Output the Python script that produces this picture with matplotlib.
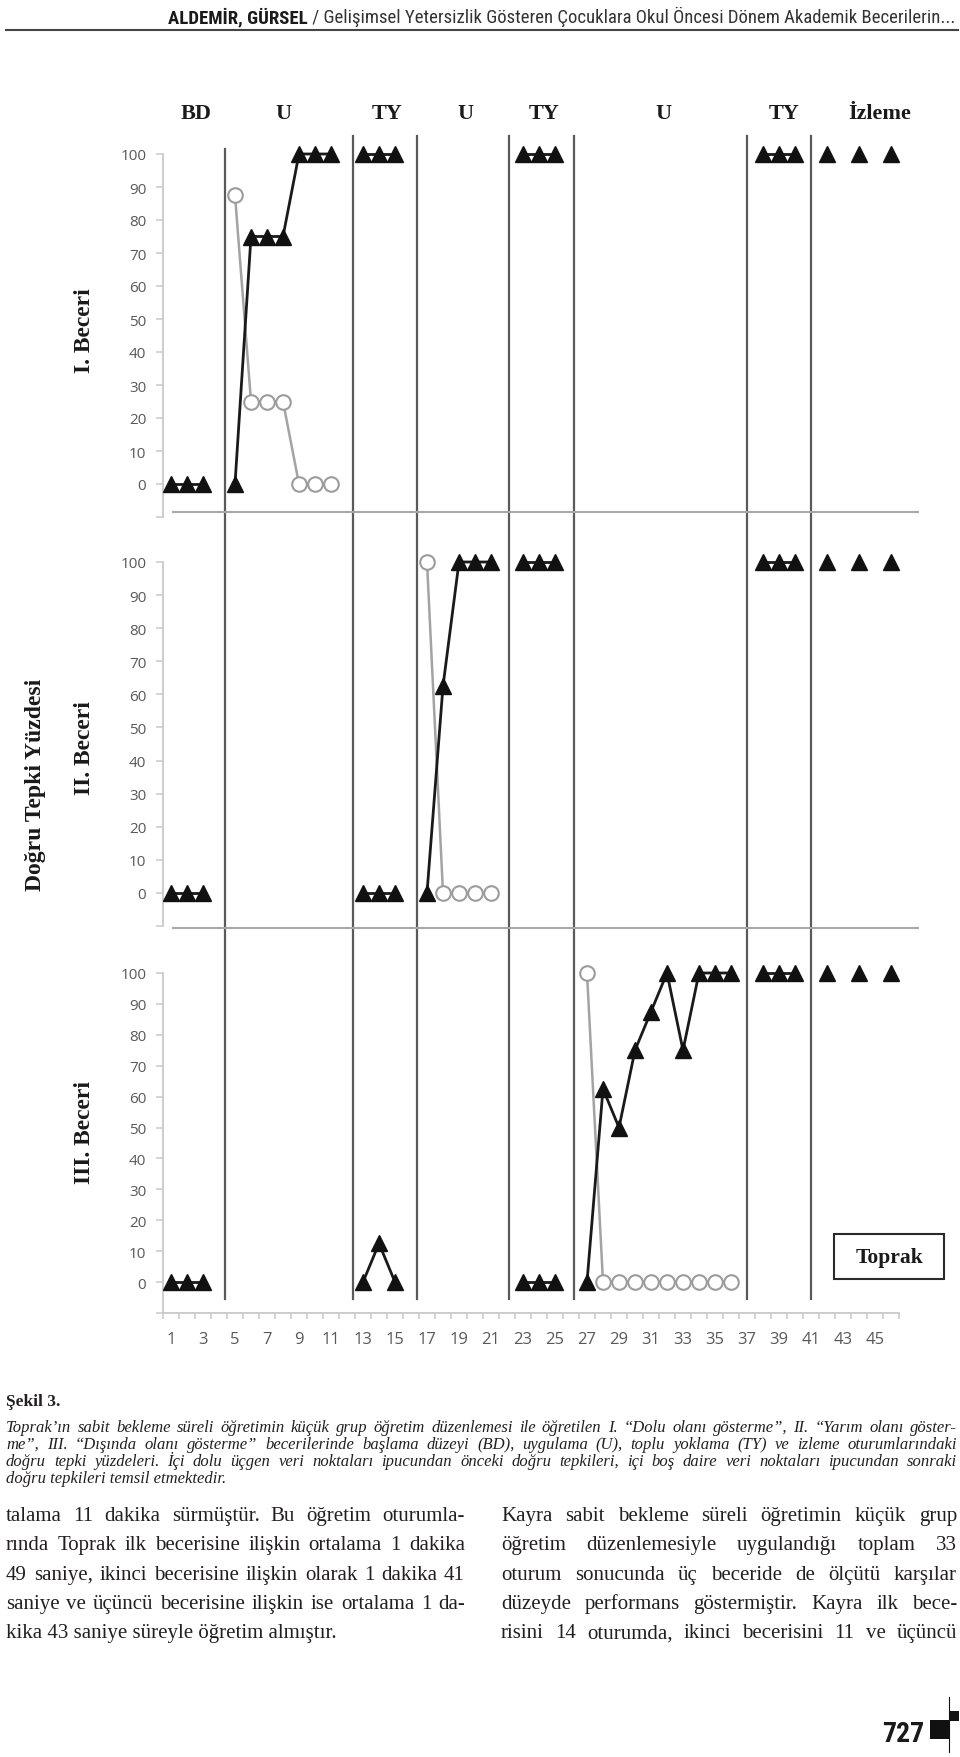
"""
plot.py

Recreates Şekil 3 (Toprak, three skills) from a journal page: multiple-probe
graph with phase lines, caption and surrounding body text.
"""
import matplotlib
matplotlib.use("Agg")
import matplotlib.pyplot as plt
import matplotlib.transforms as mtransforms
from matplotlib import font_manager
from matplotlib.patches import Rectangle

# ---- data -----------------------------------------------------------------
sessions_ticks = list(range(1, 46, 2))

bl_x = [1, 2, 3]
ty1_x = [13, 14, 15]
ty2_x = [23, 24, 25]
ty3_x = [38, 39, 40]
follow_x = [42, 44, 46]

# I. Beceri
s1_bl = [0, 0, 0]
s1_u_x = [5, 6, 7, 8, 9, 10, 11]
s1_u_tri = [0, 75, 75, 75, 100, 100, 100]
s1_u_circ = [87.5, 25, 25, 25, 0, 0, 0]
s1_ty1 = [100, 100, 100]
s1_ty2 = [100, 100, 100]
s1_ty3 = [100, 100, 100]
s1_follow = [100, 100, 100]

# II. Beceri
s2_bl = [0, 0, 0]
s2_ty1 = [0, 0, 0]
s2_u_x = [17, 18, 19, 20, 21]
s2_u_tri = [0, 62.5, 100, 100, 100]
s2_u_circ = [100, 0, 0, 0, 0]
s2_ty2 = [100, 100, 100]
s2_ty3 = [100, 100, 100]
s2_follow = [100, 100, 100]

# III. Beceri
s3_bl = [0, 0, 0]
s3_ty1 = [0, 12.5, 0]
s3_ty2 = [0, 0, 0]
s3_u_x = [27, 28, 29, 30, 31, 32, 33, 34, 35, 36]
s3_u_tri = [0, 62.5, 50, 75, 87.5, 100, 75, 100, 100, 100]
s3_u_circ = [100, 0, 0, 0, 0, 0, 0, 0, 0, 0]
s3_ty3 = [100, 100, 100]
s3_follow = [100, 100, 100]

phase_names = ["BD", "U", "TY", "U", "TY", "U", "TY", "İzleme"]
phase_label_x = [2.6, 8.0, 14.5, 19.4, 24.3, 31.8, 39.3, 45.3]
phase_change_x = [4.4, 12.4, 16.4, 22.1, 26.2, 37.0, 41.0]

panel_names = ["I. Beceri", "II. Beceri", "III. Beceri"]

header_bold = "ALDEMİR, GÜRSEL"
header_rest = " / Gelişimsel Yetersizlik Gösteren Çocuklara Okul Öncesi Dönem Akademik Becerilerin..."

caption_lines = [
    "Toprak’ın sabit bekleme süreli öğretimin küçük grup öğretim düzenlemesi ile öğretilen I. “Dolu olanı gösterme”, II. “Yarım olanı göster-",
    "me”, III. “Dışında olanı gösterme” becerilerinde başlama düzeyi (BD), uygulama (U), toplu yoklama (TY) ve izleme oturumlarındaki",
    "doğru tepki yüzdeleri. İçi dolu üçgen veri noktaları ipucundan önceki doğru tepkileri, içi boş daire veri noktaları ipucundan sonraki",
    "doğru tepkileri temsil etmektedir.",
]
left_lines = [
    "talama 11 dakika sürmüştür. Bu öğretim oturumla-",
    "rında Toprak ilk becerisine ilişkin ortalama 1 dakika",
    "49 saniye, ikinci becerisine ilişkin olarak 1 dakika 41",
    "saniye ve üçüncü becerisine ilişkin ise ortalama 1 da-",
    "kika 43 saniye süreyle öğretim almıştır.",
]
right_lines = [
    "Kayra sabit bekleme süreli öğretimin küçük grup",
    "öğretim düzenlemesiyle uygulandığı toplam 33",
    "oturum sonucunda üç beceride de ölçütü karşılar",
    "düzeyde performans göstermiştir. Kayra ilk bece-",
    "risini 14 oturumda, ikinci becerisini 11 ve üçüncü",
]


def has_font(name):
    try:
        font_manager.findfont(name, fallback_to_default=False)
        return True
    except ValueError:
        return False


NARROW = next((f for f in ["Liberation Sans Narrow", "Roboto Condensed", "Roboto"]
               if has_font(f)), "DejaVu Sans")
SERIF = "Liberation Serif"
TICKFONT = "Open Sans"
TEXTCOL = "#231f20"

W, H = 960, 1758
fig = plt.figure(figsize=(W / 100, H / 100), dpi=100)
page = fig.add_axes([0, 0, 1, 1])
page.axis("off")


def make_panel(top_px, bottom_px, show_x=False):
    ax = fig.add_axes([163 / W, 1 - bottom_px / H, (899 - 163) / W, (bottom_px - top_px) / H])
    ax.patch.set_alpha(0)
    ax.set_xlim(0.5, 46.5)
    ax.set_ylim(-10, 100)
    for s in ["top", "right"]:
        ax.spines[s].set_visible(False)
    ax.spines["left"].set_color("#c9c9c9")
    ax.spines["left"].set_linewidth(1.3)
    ax.set_yticks(range(-10, 101, 10))
    ax.set_yticklabels([""] + [str(v) for v in range(0, 101, 10)])
    ax.tick_params(axis="y", length=5, width=1.1, color="#c9c9c9", pad=7,
                   labelsize=11, labelcolor="#595959")
    for lab in ax.get_yticklabels():
        lab.set_family(TICKFONT)
    if show_x:
        ax.spines["bottom"].set_color("#c9c9c9")
        ax.spines["bottom"].set_linewidth(1.3)
        ax.set_xticks(sessions_ticks)
        ax.set_xticks([v + 0.5 for v in range(0, 47)], minor=True)
        ax.tick_params(axis="x", which="major", length=0, pad=13,
                       labelsize=12, labelcolor="#595959")
        ax.tick_params(axis="x", which="minor", length=4, width=1.1, color="#c9c9c9")
        for lab in ax.get_xticklabels():
            lab.set_family(TICKFONT)
    else:
        ax.spines["bottom"].set_visible(False)
        ax.set_xticks([])
    return ax


def tri(ax, x, y, connect=True):
    ax.plot(x, y, color="#1a1a1a", lw=2.0 if connect else 0, marker="^", ms=11,
            mfc="#111111", mec="#111111", zorder=4, clip_on=False)


def circ(ax, x, y):
    ax.plot(x, y, color="#a3a3a3", lw=1.8, marker="o", ms=10.5, mfc="white",
            mec="#9c9c9c", mew=1.5, zorder=3, clip_on=False)


ax1 = make_panel(155, 518)
ax2 = make_panel(563, 927)
ax3 = make_panel(974, 1314, show_x=True)

# skill I
tri(ax1, bl_x, s1_bl)
circ(ax1, s1_u_x, s1_u_circ)
tri(ax1, s1_u_x, s1_u_tri)
tri(ax1, ty1_x, s1_ty1)
tri(ax1, ty2_x, s1_ty2)
tri(ax1, ty3_x, s1_ty3)
tri(ax1, follow_x, s1_follow, connect=False)

# skill II
tri(ax2, bl_x, s2_bl)
tri(ax2, ty1_x, s2_ty1)
circ(ax2, s2_u_x, s2_u_circ)
tri(ax2, s2_u_x, s2_u_tri)
tri(ax2, ty2_x, s2_ty2)
tri(ax2, ty3_x, s2_ty3)
tri(ax2, follow_x, s2_follow, connect=False)

# skill III
tri(ax3, bl_x, s3_bl)
tri(ax3, ty1_x, s3_ty1)
tri(ax3, ty2_x, s3_ty2)
circ(ax3, s3_u_x, s3_u_circ)
tri(ax3, s3_u_x, s3_u_tri)
tri(ax3, ty3_x, s3_ty3)
tri(ax3, follow_x, s3_follow, connect=False)

# phase change lines and phase names (x in session units, y in page pixels)
trans = mtransforms.blended_transform_factory(ax3.transData, page.transData)
for i, x in enumerate(phase_change_x):
    page.plot([x, x], [150 if i == 0 else 137, 1300], transform=trans,
              color="#5a5a5a", lw=1.6, zorder=2)
for name, x in zip(phase_names, phase_label_x):
    page.text(x, 114, name, transform=trans, ha="center", va="center",
              family=SERIF, weight="bold", fontsize=16, color="#1a1a1a")

# panel separators
page.plot([173, 918], [513, 513], color="#a8a8a8", lw=1.5)
page.plot([173, 918], [929, 929], color="#a8a8a8", lw=1.5)

# rotated labels
for name, yc in zip(panel_names, [331, 748, 1133]):
    page.text(84, yc, name, rotation=90, ha="center", va="center",
              family=SERIF, weight="bold", fontsize=17, color="#1a1a1a")
page.text(36, 785, "Doğru Tepki Yüzdesi", rotation=90, ha="center", va="center",
          family=SERIF, weight="bold", fontsize=17, color="#1a1a1a")

# Toprak box
page.add_patch(Rectangle((834, 1235), 110, 45, fill=False, ec="#2a2a2a", lw=1.5))
page.text(889, 1258, "Toprak", ha="center", va="center", family=SERIF,
          weight="bold", fontsize=15.5, color="#1a1a1a")

# header
page.plot([6, 958], [31, 31], color="#444444", lw=1.5)
renderer = fig.canvas.get_renderer()
t_rest = page.text(955, 23, header_rest, ha="right", va="baseline",
                   family=NARROW, fontsize=11, color="#333333")
w = t_rest.get_window_extent(renderer).width
fs = 11 * 646 / w
t_rest.set_fontsize(fs)
w = t_rest.get_window_extent(renderer).width
page.text(955 - w, 23, header_bold, ha="right", va="baseline",
          family=NARROW, fontsize=fs, weight="bold", color="#1a1a1a")


def justify(lines, x0, x1, y0, dy, last_full=False, **kw):
    for i, line in enumerate(lines):
        y = y0 + i * dy
        if i == len(lines) - 1 and not last_full:
            page.text(x0, y, line, ha="left", va="baseline", **kw)
            continue
        words = line.split(" ")
        texts = [page.text(x0, y, wd, ha="left", va="baseline", **kw) for wd in words]
        widths = [t.get_window_extent(renderer).width for t in texts]
        gap = max((x1 - x0 - sum(widths)) / (len(texts) - 1), 2.5)
        x = x0
        for t, wd in zip(texts, widths):
            t.set_x(x)
            x += wd + gap


# caption
page.text(6, 1406, "Şekil 3.", ha="left", va="baseline", family=SERIF,
          weight="bold", fontsize=12.5, color=TEXTCOL)
justify(caption_lines, 6, 957, 1432, 17, family=SERIF, style="italic",
        fontsize=12, color=TEXTCOL)

# body text
justify(left_lines, 6, 465, 1521, 29.3, family=SERIF, fontsize=15, color=TEXTCOL)
justify(right_lines, 501, 957, 1521, 29.3, last_full=True, family=SERIF,
        fontsize=15, color=TEXTCOL)

# page number mark
page.text(924, 1742, "727", ha="right", va="baseline", family=NARROW,
          weight="bold", fontsize=20, color="#1a1a1a")
page.add_patch(Rectangle((930, 1721), 19, 19, color="#111111", lw=0))
page.add_patch(Rectangle((950, 1712), 9, 10, color="#111111", lw=0))
page.plot([949, 949], [1698, 1753], color="#111111", lw=0.8)

page.set_xlim(0, W)
page.set_ylim(H, 0)

fig.savefig("out.png", dpi=100)
